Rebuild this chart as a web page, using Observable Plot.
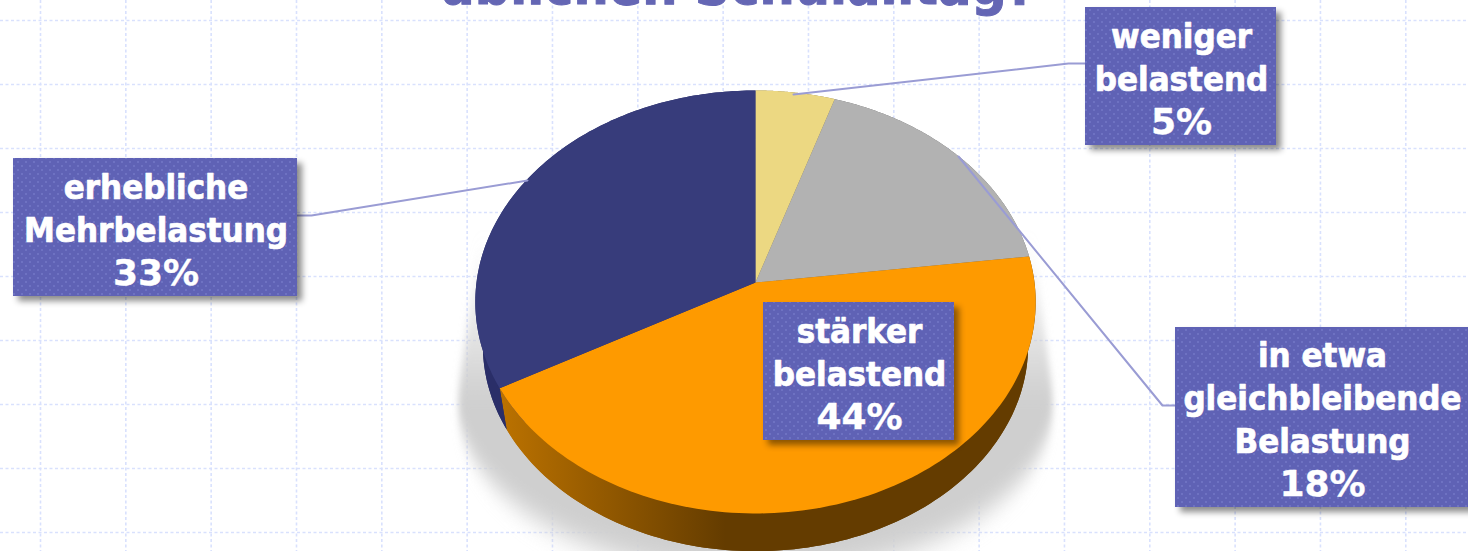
<!DOCTYPE html>
<html><head><meta charset="utf-8">
<style>html,body{margin:0;padding:0;background:#fff;overflow:hidden}svg{display:block}</style>
<script src="https://cdn.jsdelivr.net/npm/d3@7"></script>
<script src="https://cdn.jsdelivr.net/npm/@observablehq/plot@0.6"></script>
</head><body><script>
const categories = ["weniger belastend","in etwa gleichbleibende Belastung","stärker belastend","erhebliche Mehrbelastung"];
const values = [5,18,44,33];
const labelLines = [["weniger","belastend"],["in etwa","gleichbleibende","Belastung"],["stärker","belastend"],["erhebliche","Mehrbelastung"]];
const sliceColors = ["#ecd882","#b2b2b2","#fe9a00","#373c7b"];
const wallColors = ["#8a7a40","#666666","url(#wallOrange)","#2a2e68"];
const titleText = "üblichen Schulalltag?";

// layout (page pixels)
const W = 1468, H = 551;
const gridX = d3.range(0,18).map(i => 40 + 85.33*i);
const gridY = d3.range(0,9).map(i => 20 + 64*i);
const boxes = [
  {x1:1085,x2:1276,y1:7,y2:145},
  {x1:1175,x2:1472,y1:327,y2:507},
  {x1:763,x2:954,y1:302,y2:440},
  {x1:13,x2:297,y1:158,y2:296}
];
const leaders = [
  [[793,94],[1068,63],[1085,63]],
  [[958,156],[1162,405],[1175,405]],
  [[527,180],[311,215],[297,215]]
];

// pie geometry: a tilted disc seen in perspective
const cx = 755, cy = 282, rx = 279, a = 209.7, k = -0.092;
const depth = 44, shrink = 0.973;
function rim(turn, bottom) {
  const t = turn*2*Math.PI, u = Math.sin(t), v = -Math.cos(t), w = 1 + k*v, s = bottom ? shrink : 1;
  return [cx + s*rx*u/w, cy + s*a*v/w + (bottom ? depth : 0)];
}
const total = d3.sum(values);
const cum = Array.from(d3.cumsum(values)).map(c => c/total);
const arcTurns = (i) => { const s = i ? cum[i-1] : 0, e = cum[i]; return d3.range(0,121).map(j => s + (e-s)*j/120); };
const faces = [], walls = [], floors = [];
categories.forEach((c,i) => {
  const turns = arcTurns(i);
  [[cx,cy],...turns.map(t => rim(t,false))].forEach(p => faces.push({c,x:p[0],y:p[1]}));
  [...turns.map(t => rim(t,false)),...turns.slice().reverse().map(t => rim(t,true))].forEach(p => walls.push({c,x:p[0],y:p[1]}));
  [[cx,cy+depth],...turns.map(t => rim(t,true))].forEach(p => floors.push({c,x:p[0],y:p[1]}));
});
// cast shadow: tapered sides above, rounded below
const shadow = [
  {x:1032,y:240},
  ...d3.range(0,181).map(d => { const t = d/180*Math.PI; return {x:755+298*Math.cos(t), y:400+175*Math.sin(t)}; }),
  {x:478,y:240}
];

function defs() {
  const ns = "http://www.w3.org/2000/svg";
  const g = document.createElementNS(ns,"defs");
  g.innerHTML = `
  <linearGradient id="wallOrange" gradientUnits="userSpaceOnUse" x1="495" y1="0" x2="725" y2="0">
    <stop offset="0" stop-color="#bd7300"/><stop offset="1" stop-color="#643c00"/>
  </linearGradient>
  <linearGradient id="shade" gradientUnits="userSpaceOnUse" x1="0" y1="250" x2="0" y2="400">
    <stop offset="0" stop-color="#cfcfcf" stop-opacity="0"/><stop offset="1" stop-color="#cfcfcf" stop-opacity="1"/>
  </linearGradient>
  <filter id="softY" x="-10%" y="-20%" width="120%" height="140%">
    <feGaussianBlur stdDeviation="3 14"/>
  </filter>
  <pattern id="dots" patternUnits="userSpaceOnUse" width="8" height="8">
    <rect width="8" height="8" fill="#5f62b5"/>
    <rect x="1" y="1" width="2" height="2" fill="#6e72c2"/><rect x="5" y="5" width="2" height="2" fill="#6e72c2"/>
  </pattern>`;
  return g;
}

const font = "'DejaVu Sans Condensed','DejaVu Sans',sans-serif";
const wide = "'DejaVu Sans',sans-serif";
const chart = Plot.plot({
  width: W, height: H, margin: 0,
  x: {domain:[0,W], range:[0,W], axis:null},
  y: {domain:[0,H], range:[0,H], axis:null},
  color: {domain: categories, range: sliceColors},
  style: {background:"#fff"},
  marks: [
    defs,
    Plot.ruleX(gridX, {stroke:"#d9e1fd", strokeWidth:1.6, strokeDasharray:"3 2.5"}),
    Plot.ruleY(gridY, {stroke:"#d9e1fd", strokeWidth:1.6, strokeDasharray:"3 2.5"}),
    Plot.text([titleText], {x:()=>737, y:()=>3, text:d=>d, lineAnchor:"middle", dy:-17,
      fontSize:55, fontWeight:700, fontFamily:font, fill:"#6466b4", stroke:"#6466b4", strokeWidth:1}),
    Plot.line(shadow, {x:"x", y:"y", fill:"url(#shade)", stroke:"none", imageFilter:"url(#softY)"}),
    ...categories.map((c,i) => Plot.line(floors.filter(d=>d.c===c), {x:"x", y:"y", fill:wallColors[i], stroke:"none"})),
    ...categories.map((c,i) => Plot.line(walls.filter(d=>d.c===c), {x:"x", y:"y", fill:wallColors[i], stroke:"none"})),
    Plot.line(faces, {x:"x", y:"y", z:"c", fill:"c", stroke:"none"}),
    ...leaders.map(l => Plot.line(l, {x:d=>d[0], y:d=>d[1], stroke:"#9a9cd4", strokeWidth:2, curve:"linear"})),
    Plot.rect(boxes, {x1:"x1", x2:"x2", y1:"y1", y2:"y2", fill:"url(#dots)",
      imageFilter:"drop-shadow(5px 5px 3px rgba(0,0,0,0.45))"}),
    Plot.text(boxes, {x:d=>(d.x1+Math.min(d.x2,1468))/2+0.5, y:d=>(d.y1+d.y2)/2-21,
      text:(d,i)=>labelLines[i].join("\n"),
      fontSize:34.5, lineHeight:1.24, fontWeight:700, fontFamily:font, fill:"#fff", stroke:"#fff", strokeWidth:0.7, textAnchor:"middle"}),
    Plot.text(boxes, {x:d=>(d.x1+Math.min(d.x2,1468))/2+0.5, y:d=>d.y2-23,
      text:(d,i)=>values[i]+"%",
      fontSize:36, fontWeight:700, fontFamily:wide, fill:"#fff", stroke:"#fff", strokeWidth:0.4, textAnchor:"middle"})
  ]
});
document.body.append(chart);
</script></body></html>
